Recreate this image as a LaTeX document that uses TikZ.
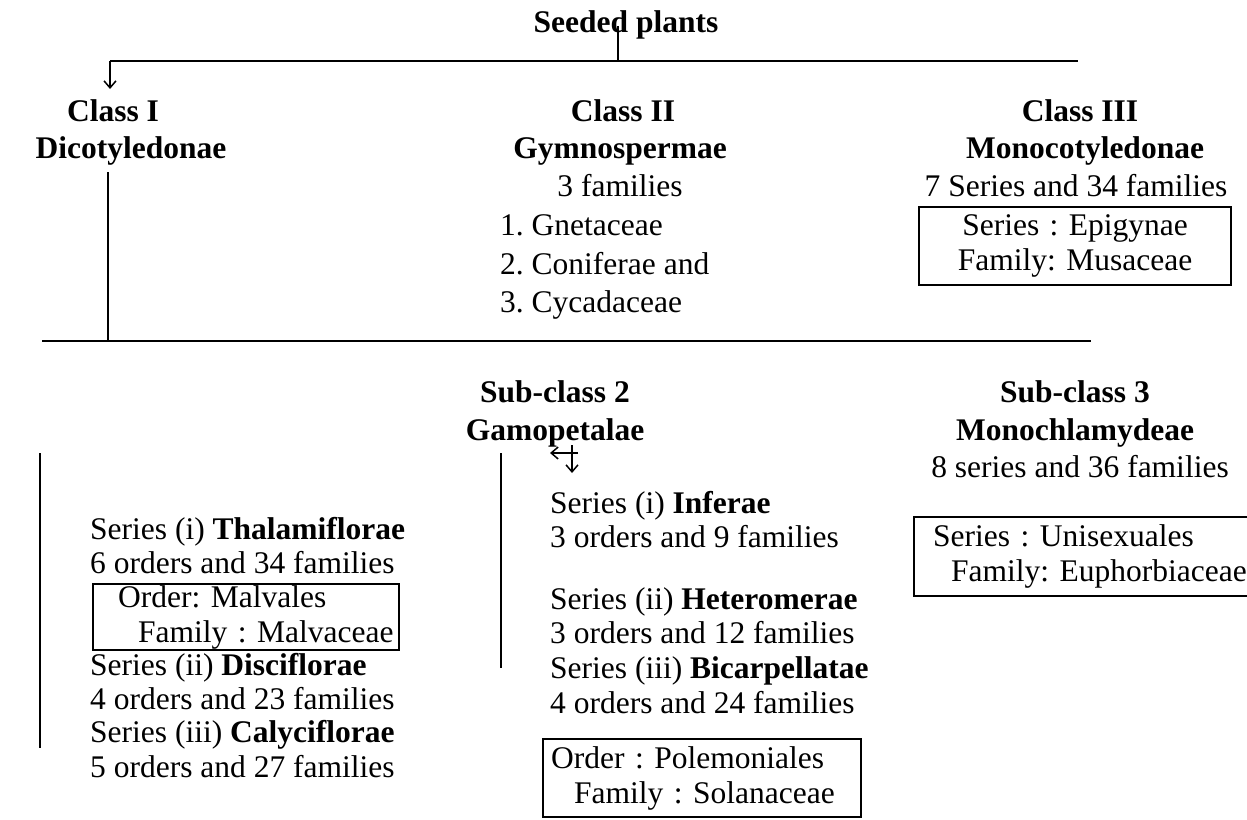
\documentclass[tikz,border=0pt]{standalone}
\usepackage{fontspec}
\setmainfont{Liberation Serif}
\usetikzlibrary{arrows.meta,positioning}
\frenchspacing

\begin{document}
\begin{tikzpicture}[x=1pt,y=-1pt,>={Straight Barb[length=7pt,width=12pt]},
  font=\fontsize{31.5}{35}\selectfont, inner sep=0pt,
  head/.style={font=\fontsize{31.5}{35}\selectfont\bfseries, anchor=base},
  txt/.style={anchor=base west},
  mid/.style={anchor=base},
  box/.style={draw, line width=2.2pt, align=left, anchor=north west, inner xsep=5pt, inner ysep=0pt},
  rule/.style={line width=2.8pt},
  bar/.style={line width=2pt},
  tip/.style={line width=1.5pt, ->}]
  \useasboundingbox (0,0) rectangle (1247,819);

  % root
  \node[head] (seed) at (626,32) {Seeded plants};
  \coordinate (s_top) at (618,26);
  \coordinate (s_bot) at (618,61);
  \coordinate (l_1) at (110,61);
  \coordinate (r_1) at (1078,61);
  \coordinate (a_1) at (110,89);

  % class I
  \node[head] (c_1) at (113,121) {Class I};
  \node[head] (c_1b) at (131,158) {Dicotyledonae};
  \coordinate (d_top) at (108,172);
  \coordinate (d_bot) at (108,341);

  % class II
  \node[head] (c_2) at (623,121) {Class II};
  \node[head] (c_2b) at (620,158) {Gymnospermae};
  \node[mid] (c_2c) at (620,196) {3 families};
  \node[txt] (g_1) at (500,235) {1. Gnetaceae};
  \node[txt] (g_2) at (500,274) {2. Coniferae and};
  \node[txt] (g_3) at (500,312) {3. Cycadaceae};

  % class III
  \node[head] (c_3) at (1080,121) {Class III};
  \node[head] (c_3b) at (1085,158) {Monocotyledonae};
  \node[mid] (c_3c) at (1076,196) {7 Series and 34 families};
  \node[box, align=center, text width=302pt, minimum height=78pt] (b_3) at (918,206)
    {Series : Epigynae\\Family: Musaceae};

  % second level
  \coordinate (l_2) at (42,341);
  \coordinate (r_2) at (1091,341);

  % sub-class 2
  \node[head] (s_2) at (555,402) {Sub-class 2};
  \node[head] (s_2b) at (555,440) {Gamopetalae};
  \coordinate (h_r) at (578,453);
  \coordinate (h_l) at (550,453);
  \coordinate (v_t) at (572,445);
  \coordinate (v_b) at (572,473);

  % sub-class 3
  \node[head] (s_3) at (1075,402) {Sub-class 3};
  \node[head] (s_3b) at (1075,440) {Monochlamydeae};
  \node[mid] (s_3c) at (1080,477) {8 series and 36 families};
  \node[box, text width=340pt, minimum height=79pt] (b_4) at (913,516)
    {\hspace*{14pt}Series : Unisexuales\\\hspace*{32pt}\mbox{Family: Euphorbiaceae}};

  % left column
  \coordinate (p_t) at (40,453);
  \coordinate (p_b) at (40,748);
  \node[txt] (t_1) at (90,539) {Series (i) \textbf{Thalamiflorae}};
  \node[txt] (t_2) at (90,573) {6 orders and 34 families};
  \node[box, text width=296pt, minimum height=66pt] (b_1) at (92,583)
    {\hspace*{20pt}Order: Malvales\\\hspace*{40pt}\mbox{Family : Malvaceae}};
  \node[txt] (t_3) at (90,675) {Series (ii) \textbf{Disciflorae}};
  \node[txt] (t_4) at (90,709) {4 orders and 23 families};
  \node[txt] (t_5) at (90,742) {Series (iii) \textbf{Calyciflorae}};
  \node[txt] (t_6) at (90,777) {5 orders and 27 families};

  % middle column
  \coordinate (q_t) at (501,453);
  \coordinate (q_b) at (501,668);
  \node[txt] (m_1) at (550,513) {Series (i) \textbf{Inferae}};
  \node[txt] (m_2) at (550,547) {3 orders and 9 families};
  \node[txt] (m_3) at (550,609) {Series (ii) \textbf{Heteromerae}};
  \node[txt] (m_4) at (550,643) {3 orders and 12 families};
  \node[txt] (m_5) at (550,678) {Series (iii) \textbf{Bicarpellatae}};
  \node[txt] (m_6) at (550,713) {4 orders and 24 families};
  \node[box, text width=308pt, minimum height=78pt] (b_2) at (542,738)
    {\hspace*{3pt}Order : Polemoniales\\\hspace*{26pt}\mbox{Family : Solanaceae}};

  \draw[bar] (s_top) -- (s_bot);
  \draw[rule] (l_1) -- (r_1);
  \draw[tip] (l_1) -- (a_1);
  \draw[bar] (d_top) -- (d_bot);
  \draw[rule] (l_2) -- (r_2);
  \draw[tip] (h_r) -- (h_l);
  \draw[tip] (v_t) -- (v_b);
  \draw[bar] (p_t) -- (p_b);
  \draw[bar] (q_t) -- (q_b);
\end{tikzpicture}
\end{document}
